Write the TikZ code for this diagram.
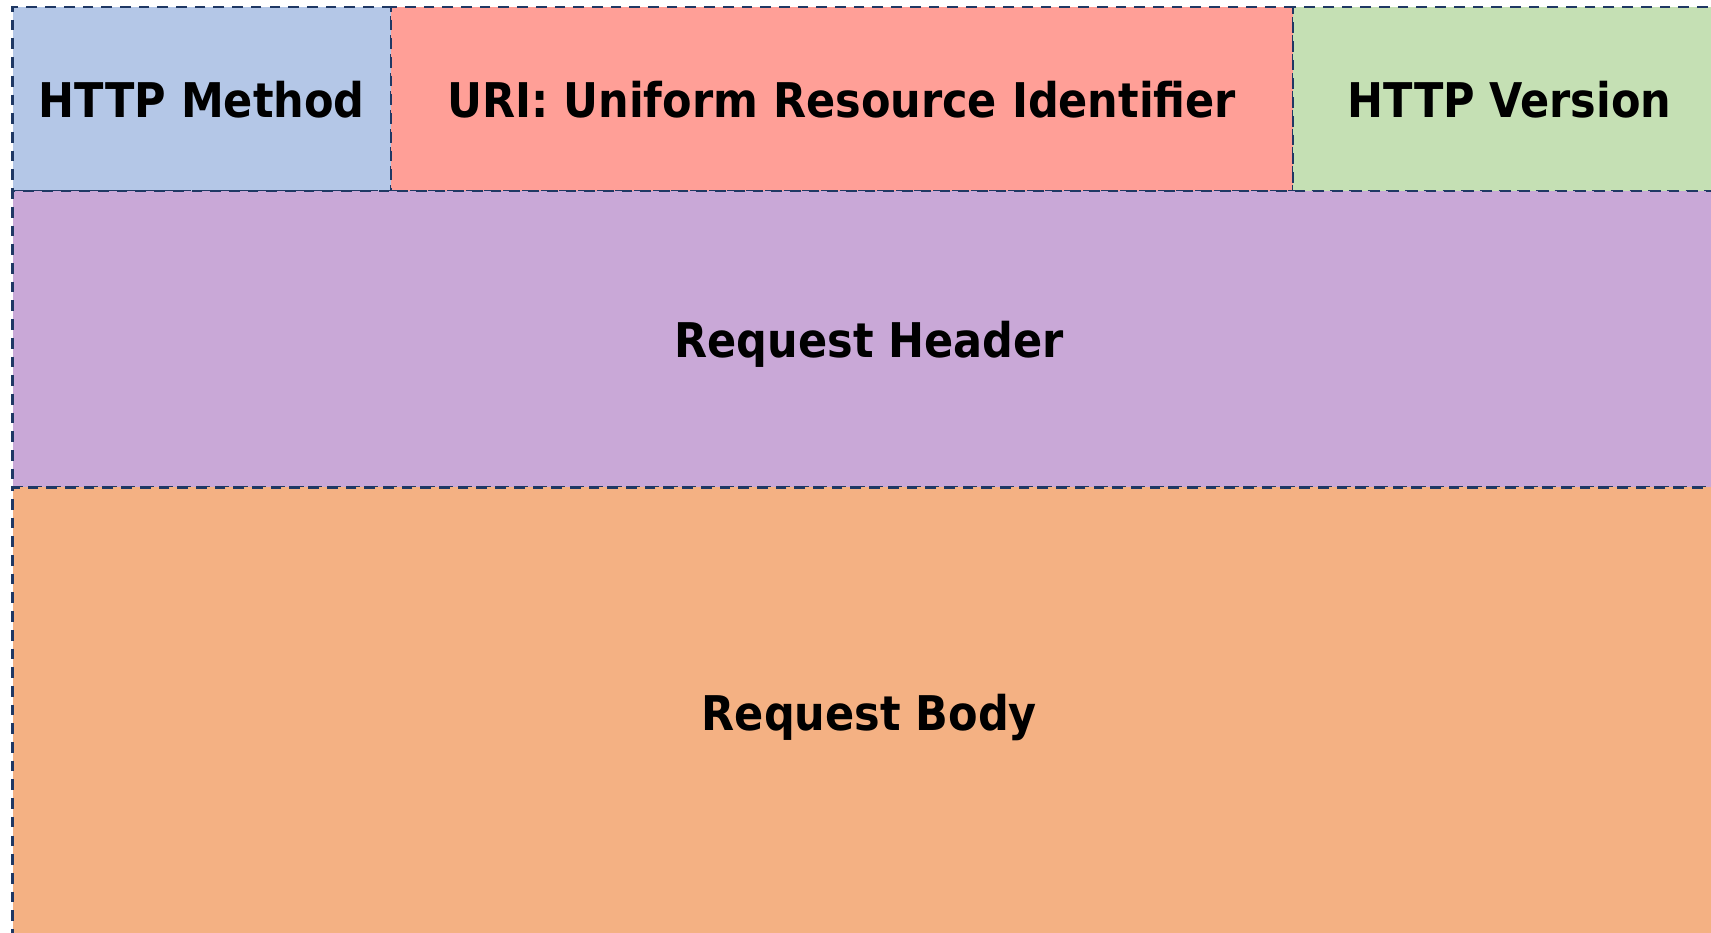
\documentclass[tikz,border=0pt]{standalone}
\usepackage{fontspec}
\setmainfont{DejaVu Sans}
\newfontfamily\condfont{DejaVu Sans Condensed}
\usepackage{tikz}
\usetikzlibrary{positioning}
\definecolor{edgenavy}{HTML}{1F3864}
\definecolor{methodblue}{HTML}{B4C7E7}
\definecolor{urired}{HTML}{FF9F97}
\definecolor{versiongreen}{HTML}{C5E0B4}
\definecolor{headerpurple}{HTML}{C9A8D7}
\definecolor{bodyorange}{HTML}{F4B183}
\tikzset{%
        field/.style = { draw=edgenavy, line width=1.9pt, dash pattern=on 7.6pt off 5.7pt,
                         inner sep=0pt, outer sep=0pt, text=black, text depth=0pt,
                         font=\condfont\bfseries\fontsize{34}{40}\selectfont },
     toprow/.style = { field, minimum height=46mm },
}

\begin{document}
\begin{tikzpicture}[x=0.25mm,y=-0.25mm]
\path[use as bounding box,clip] (0,0) rectangle (1711,932);
% request line
\node [toprow, fill=methodblue, minimum width=94.6mm, anchor=north west] (method) at (12.5,7) {HTTP Method};
\node [toprow, fill=urired, minimum width=225.5mm, right=0pt of method] (uri) {URI: Uniform Resource Identifier};
\node [toprow, fill=versiongreen, minimum width=108.3mm, right=0pt of uri] (version) {HTTP Version};
% header and body
\node [field, fill=headerpurple, minimum width=428.4mm, minimum height=74.1mm, below right=0pt of method.south west] (header) {Request Header};
\node [field, fill=bodyorange, minimum width=428.4mm, minimum height=112.6mm, below right=0pt of header.south west] (body) {Request Body};
\end{tikzpicture}
\end{document}
